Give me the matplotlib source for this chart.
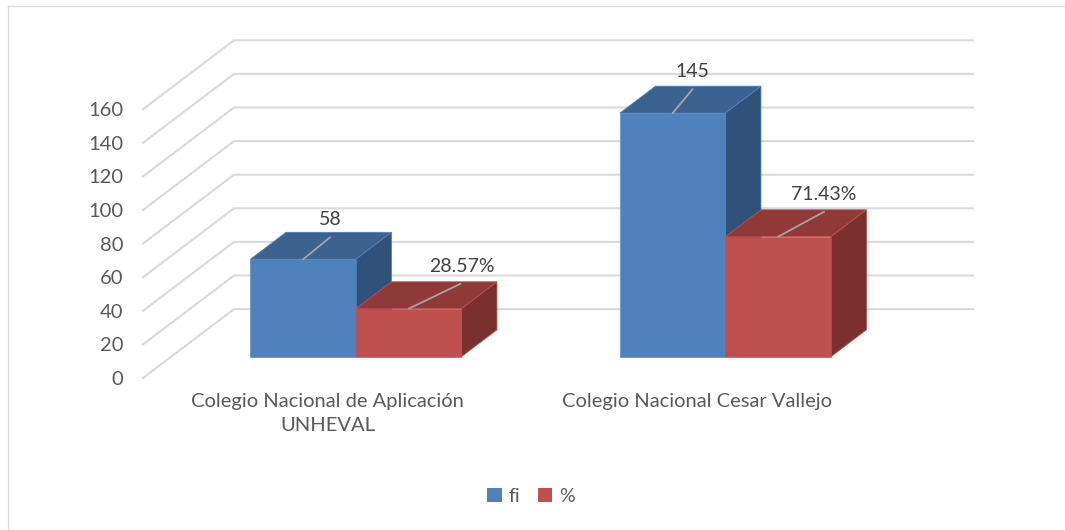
"""Grouped 3D-look bar chart, fi and % per school, drawn as projected polygons."""

import matplotlib

matplotlib.use("Agg")
import matplotlib.pyplot as plt
from matplotlib.patches import Patch, Polygon

plt.rcParams["font.family"] = ["Lato", "DejaVu Sans"]

categories = ["Colegio Nacional de Aplicación\nUNHEVAL", "Colegio Nacional Cesar Vallejo"]
fi_values = [58, 145]
pct_values = [28.57, 71.43]
fi_labels = ["58", "145"]
pct_labels = ["28.57%", "71.43%"]
y_ticks = [0, 20, 40, 60, 80, 100, 120, 140, 160]

W, H = 1065, 530
# plot box in pixels: front plane of the 3D walls
LEFT, RIGHT, BASE, TOP = 143, 882, 378, 109.2

# depth projection: a point at depth 1 sits on the back wall
DEPTH_X = 91 / 369.5
DEPTH_Y = 41.0
BAR_D0, BAR_D1 = 0.309, 0.70
BAR_W = 0.2855

GRID = "#D9D9D9"
LEADER = "#A6A6A6"
SERIES = [
    {"name": "fi", "front": "#4F81BD", "top": "#3C6290", "side": "#30527A", "sign": -1},
    {"name": "%", "front": "#C0504D", "top": "#8F3A38", "side": "#7A302E", "sign": 0},
]


def project(x, v, d):
    return x + d * DEPTH_X, v + d * DEPTH_Y


def draw_bar(ax, x0, x1, v, s):
    d0, d1 = BAR_D0, BAR_D1
    top = [project(x0, v, d0), project(x1, v, d0), project(x1, v, d1), project(x0, v, d1)]
    side = [project(x1, 0, d0), project(x1, v, d0), project(x1, v, d1), project(x1, 0, d1)]
    front = [project(x0, 0, d0), project(x1, 0, d0), project(x1, v, d0), project(x0, v, d0)]
    ax.add_patch(Polygon(top, fc=s["top"], ec=s["front"], lw=0.6, clip_on=False, zorder=3))
    ax.add_patch(Polygon(side, fc=s["side"], ec=s["front"], lw=0.6, clip_on=False, zorder=3))
    ax.add_patch(Polygon(front, fc=s["front"], ec=s["front"], lw=0.4, clip_on=False, zorder=3))


def draw_label(ax, x, v, text, off_leader, off_text):
    start = project(x, v, BAR_D0)
    ax.annotate(
        "",
        xy=start,
        xytext=off_leader,
        textcoords="offset pixels",
        arrowprops=dict(arrowstyle="-", color=LEADER, lw=1.3, shrinkA=0, shrinkB=0),
        zorder=4,
    )
    ax.annotate(
        text,
        xy=start,
        xytext=off_text,
        textcoords="offset pixels",
        ha="center",
        va="center",
        fontsize=14,
        color="#404040",
        zorder=5,
    )


fig = plt.figure(figsize=(W / 100, H / 100), dpi=100)
ax = fig.add_axes([LEFT / W, (H - BASE) / H, (RIGHT - LEFT) / W, (BASE - TOP) / H])
ax.set_xlim(0, 2)
ax.set_ylim(0, 160)
ax.patch.set_visible(False)
for spine in ax.spines.values():
    spine.set_visible(False)

# walls: diagonal on the side wall, straight on the back wall
for v in y_ticks:
    back_left = project(0, v, 1)
    back_right = project(2, v, 1)
    ax.plot([0, back_left[0], back_right[0]], [v, back_left[1], back_right[1]],
            color=GRID, lw=1.5, clip_on=False, zorder=1, solid_joinstyle="miter")

ax.set_yticks(y_ticks)
ax.set_xticks([0.5, 1.5])
ax.set_xticklabels(categories, linespacing=1.45)
ax.tick_params(axis="y", length=0, pad=14, labelsize=14.5, labelcolor="#595959")
ax.tick_params(axis="x", length=0, pad=11, labelsize=14.5, labelcolor="#595959")

# leader and text offsets in pixels from the front top edge of each bar
fi_leader = [(27, 22), (20, 24)]
fi_text = [(27, 40), (20, 42)]
pct_leader = [(52, 25), (46, 25)]
pct_text = [(53, 42), (46, 42)]

for i, cat_x in enumerate([0.5, 1.5]):
    draw_bar(ax, cat_x - BAR_W, cat_x, fi_values[i], SERIES[0])
    draw_bar(ax, cat_x, cat_x + BAR_W, pct_values[i], SERIES[1])
    draw_label(ax, cat_x - BAR_W / 2, fi_values[i], fi_labels[i], fi_leader[i], fi_text[i])
    draw_label(ax, cat_x + BAR_W / 2, pct_values[i], pct_labels[i], pct_leader[i], pct_text[i])

handles = [Patch(facecolor=s["front"], label=s["name"]) for s in SERIES]
fig.legend(
    handles=handles,
    loc="center",
    bbox_to_anchor=(531 / W, 1 - 496 / H),
    ncol=2,
    frameon=False,
    fontsize=14,
    labelcolor="#595959",
    handlelength=0.75,
    handleheight=0.75,
    handletextpad=0.35,
    columnspacing=0.9,
)

# chart frame
fig.add_artist(plt.Line2D([8 / W, 1], [1 - 5.5 / H] * 2, color=GRID, lw=1))
fig.add_artist(plt.Line2D([8 / W] * 2, [1 - 5.5 / H, 0], color=GRID, lw=1))

fig.savefig("out.png", dpi=100)
